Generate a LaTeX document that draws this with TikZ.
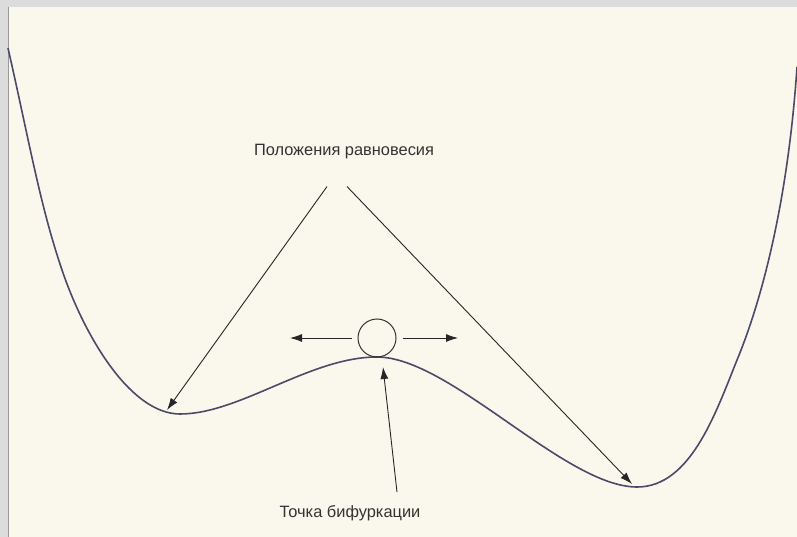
\documentclass[tikz,border=0pt]{standalone}
\usepackage{fontspec}
\setmainfont{Liberation Sans}
\usetikzlibrary{arrows.meta,calc}

\definecolor{paper}{HTML}{FAF7EC}
\definecolor{frame}{HTML}{DCDCDC}
\definecolor{curve}{HTML}{4B4A68}

\tikzset{
  arr/.style={line width=0.9pt, draw=black!85, -{Latex[length=12pt,width=8pt]}},
  lbl/.style={font=\fontsize{16.4}{19}\selectfont, text=black!80, inner sep=0pt},
}

\begin{document}
\begin{tikzpicture}[x=1pt,y=-1pt]
            \useasboundingbox (0,0) rectangle (797,537);
            \fill[paper] (0,0) rectangle (797,537);
            \fill[frame] (0,0) rectangle (797,7);
            \fill[frame] (0,0) rectangle (8,537);
            \draw[black!40, line width=1pt] (8,7)--(8,537);

            % potential well
            \draw[curve, line width=1.6pt] (8,48)
              .. controls (30,145) and (40,205) .. (62,270)
              .. controls (84,335) and (130,414) .. (180,414)
              .. controls (240,414) and (310,357) .. (377,357)
              .. controls (450,357) and (565,487) .. (637,487)
              .. controls (690,487) and (715,415) .. (737,360)
              .. controls (757,312) and (787,215) .. (797,67);

            \coordinate (leftmin) at (167,410);
            \coordinate (rightmin) at (632,484);
            \coordinate (hilltop) at (383,367);
            \coordinate (pushl) at (290,338);
            \coordinate (pushr) at (458,338);

            \node[lbl] (eq) at (344,152) {Положения равновесия};
            \node[lbl] (bif) at (350,513) {Точка бифуркации};
            \node[draw, circle, minimum size=38pt, line width=1pt, black!80] (ball) at (377,338) {};

            \draw[arr] ($(eq.south)+(-17,27)$)--(leftmin);
            \draw[arr] ($(eq.south)+(3,27)$)--(rightmin);
            \draw[arr] ($(bif.north)+(47,-13)$)--(hilltop);

            \draw[arr] ($(ball.west)+(-6,0)$)--(pushl);
            \draw[arr] ($(ball.east)+(6,0)$)--(pushr);
\end{tikzpicture}
\end{document}
